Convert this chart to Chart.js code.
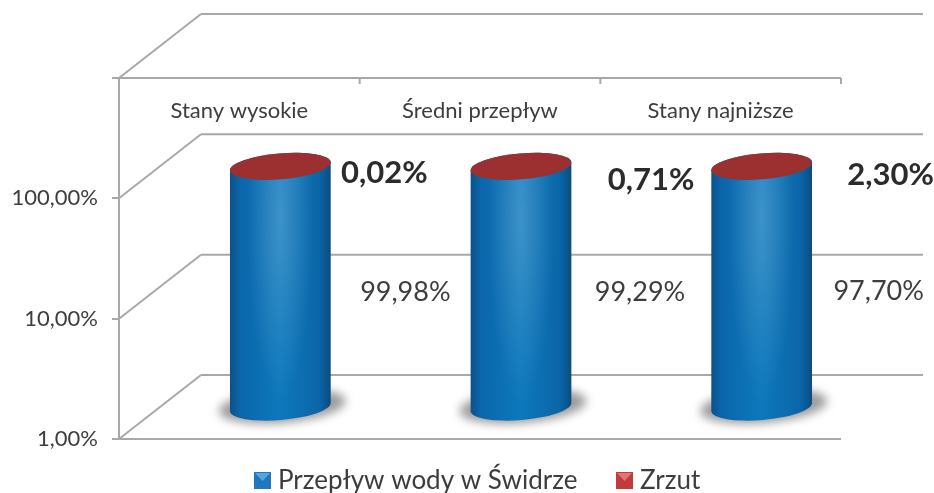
<!DOCTYPE html>
<html>
<head>
<meta charset="utf-8">
<style>
    body { margin: 0; background: #fff; }
    #chart { display: block; filter: blur(0.6px); }
</style>
<script src="https://cdn.jsdelivr.net/npm/chart.js@4"></script>
</head>
<body>
<canvas id="chart" width="934" height="493"></canvas>
<script>
// dane
var categories = ['Stany wysokie', 'Średni przepływ', 'Stany najniższe'];
var flowValues = [99.98, 99.29, 97.70];
var dischargeValues = [0.02, 0.71, 2.30];
var yTicks = [1, 10, 100, 1000];
var yLabelled = [1, 10, 100];

// where the loose labels sit relative to each cylinder
var depthX = 82, depthY = -64;
var flowLabelPos = [[125, 292], [119, 292], [117, 291]];
var dischargeLabelPos = [[104, 173], [130, 180], [129, 175]];

var FONT = 'Lato, sans-serif';
var LINE = '#a8a8a8';
var TEXT = '#3d3d3d';

var percent = function (v) {
    return v.toFixed(2).replace('.', ',') + '%';
};

function line(ctx, x1, y1, x2, y2) {
    ctx.beginPath();
    ctx.moveTo(x1, y1);
    ctx.lineTo(x2, y2);
    ctx.stroke();
}

function drawCylinder(ctx, cx, top, bottom, width) {
    var rx = width / 2, ry = 13, tilt = -0.085;

    // shadow under the base
    ctx.save();
    ctx.filter = 'blur(5px)';
    ctx.fillStyle = 'rgba(90,90,90,0.6)';
    ctx.beginPath();
    ctx.ellipse(cx + 2, bottom - 1, rx + 13, ry + 4, tilt, 0, Math.PI * 2);
    ctx.fill();
    ctx.restore();

    ctx.save();
    ctx.beginPath();
    ctx.ellipse(cx, bottom, rx, ry, tilt, 0, Math.PI);
    ctx.ellipse(cx, top, rx, ry, tilt, Math.PI, Math.PI * 2);
    ctx.closePath();
    var g = ctx.createLinearGradient(cx - rx, 0, cx + rx, 0);
    g.addColorStop(0, '#0b5088');
    g.addColorStop(0.1, '#0b66aa');
    g.addColorStop(0.5, '#0d78bc');
    g.addColorStop(0.88, '#0b66a8');
    g.addColorStop(1, '#0a4c7e');
    ctx.fillStyle = g;
    ctx.fill();
    ctx.clip();

    // soft highlight in the upper part
    ctx.translate(cx, top + 50);
    ctx.scale(0.3, 1.7);
    var h = ctx.createRadialGradient(0, 0, 0, 0, 0, 110);
    h.addColorStop(0, 'rgba(255,255,255,0.2)');
    h.addColorStop(1, 'rgba(255,255,255,0)');
    ctx.fillStyle = h;
    ctx.fillRect(-200, -200, 400, 400);
    ctx.restore();

    // top
    ctx.fillStyle = '#9c2f30';
    ctx.beginPath();
    ctx.ellipse(cx, top, rx, ry, tilt, 0, Math.PI * 2);
    ctx.fill();
}

var frame3d = {
    id: 'frame3d',
    beforeDatasetsDraw: function (chart) {
        var ctx = chart.ctx, y = chart.scales.y, x = chart.scales.x;
        var area = chart.chartArea;
        ctx.save();
        ctx.strokeStyle = LINE;
        ctx.lineWidth = 2;
        yTicks.forEach(function (v) {
            var py = y.getPixelForValue(v);
            line(ctx, area.left, py, area.left + depthX, py + depthY);
            line(ctx, area.left + depthX, py + depthY, area.right + depthX, py + depthY);
        });
        // front edges
        line(ctx, area.left - 7, area.top, area.right, area.top);
        line(ctx, area.left - 7, area.bottom, area.right, area.bottom);
        // marks between the categories
        for (var i = 1; i <= categories.length; i++) {
            var px = x.getPixelForValue(i - 0.5);
            line(ctx, px, area.top, px, area.top + 6);
        }
        // category names sit under the top edge
        ctx.fillStyle = TEXT;
        ctx.font = '22px ' + FONT;
        ctx.textAlign = 'center';
        ctx.textBaseline = 'middle';
        categories.forEach(function (c, i) {
            ctx.fillText(c, x.getPixelForValue(i), 111);
        });
        ctx.restore();
    },
    beforeDatasetDraw: function (chart, args) {
        // the stock rectangles are replaced by the cylinders
        if (args.index !== 0) return false;
        var ctx = chart.ctx;
        var flow = chart.getDatasetMeta(0).data;
        var top = chart.getDatasetMeta(1).data;
        flow.forEach(function (bar, i) {
            drawCylinder(ctx, bar.x + depthX / 2, top[i].y + depthY / 2, bar.base + depthY / 2, bar.width);
        });
        return false;
    },
    afterDraw: function (chart) {
        var ctx = chart.ctx;
        var flow = chart.getDatasetMeta(0).data;
        ctx.save();
        ctx.textAlign = 'center';
        ctx.textBaseline = 'middle';
        flow.forEach(function (bar, i) {
            var cx = bar.x + depthX / 2;
            ctx.fillStyle = TEXT;
            ctx.font = '27px ' + FONT;
            ctx.fillText(percent(flowValues[i]), cx + flowLabelPos[i][0], flowLabelPos[i][1]);
            ctx.fillStyle = '#2b2b2b';
            ctx.font = 'bold 31px ' + FONT;
            ctx.fillText(percent(dischargeValues[i]), cx + dischargeLabelPos[i][0], dischargeLabelPos[i][1]);
        });

        // legenda
        ctx.textAlign = 'left';
        ctx.fillStyle = TEXT;
        ctx.font = '26px ' + FONT;
        var sets = chart.data.datasets;
        ctx.fillText(sets[0].label, 278, 481);
        ctx.fillText(sets[1].label, 640, 481);
        legendBox(ctx, 254, 472, '#1f78bd', '#5aa6dc');
        legendBox(ctx, 616, 472, '#c23a3a', '#e27474');
        ctx.restore();
    }
};

function legendBox(ctx, x, y, dark, light) {
    ctx.fillStyle = dark;
    ctx.fillRect(x, y, 17, 17);
    ctx.fillStyle = light;
    ctx.beginPath();
    ctx.moveTo(x + 1, y + 1);
    ctx.lineTo(x + 16, y + 1);
    ctx.lineTo(x + 8.5, y + 9);
    ctx.closePath();
    ctx.fill();
}

new Chart(document.getElementById('chart'), {
    type: 'bar',
    data: {
        labels: categories,
        datasets: [
            { label: 'Przepływ wody w Świdrze', data: flowValues, backgroundColor: '#0d78bc' },
            { label: 'Zrzut', data: dischargeValues, backgroundColor: '#9c2f30' }
        ]
    },
    plugins: [frame3d],
    options: {
        responsive: false,
        animation: false,
        barPercentage: 1,
        categoryPercentage: 0.42,
        layout: { padding: { left: 0, right: 93, top: 0, bottom: 54 } },
        plugins: { legend: { display: false }, tooltip: { enabled: false } },
        scales: {
            x: {
                position: 'top',
                stacked: true,
                afterFit: function (s) { s.height = 78; },
                grid: { display: false },
                border: { display: false },
                ticks: { display: false }
            },
            y: {
                type: 'logarithmic',
                stacked: true,
                min: 1,
                max: 1000,
                afterFit: function (s) { s.width = 119; },
                afterBuildTicks: function (s) {
                    s.ticks = yTicks.map(function (v) { return { value: v, major: true }; });
                },
                grid: { drawOnChartArea: false, color: LINE, lineWidth: 2, tickLength: 7 },
                border: { color: LINE, width: 2 },
                ticks: {
                    padding: 14,
                    color: TEXT,
                    autoSkip: false,
                    font: { family: FONT, size: 22 },
                    callback: function (v) {
                        return yLabelled.indexOf(v) >= 0 ? v.toFixed(2).replace('.', ',') + '%' : '';
                    }
                }
            }
        }
    }
});
</script>
</body>
</html>
